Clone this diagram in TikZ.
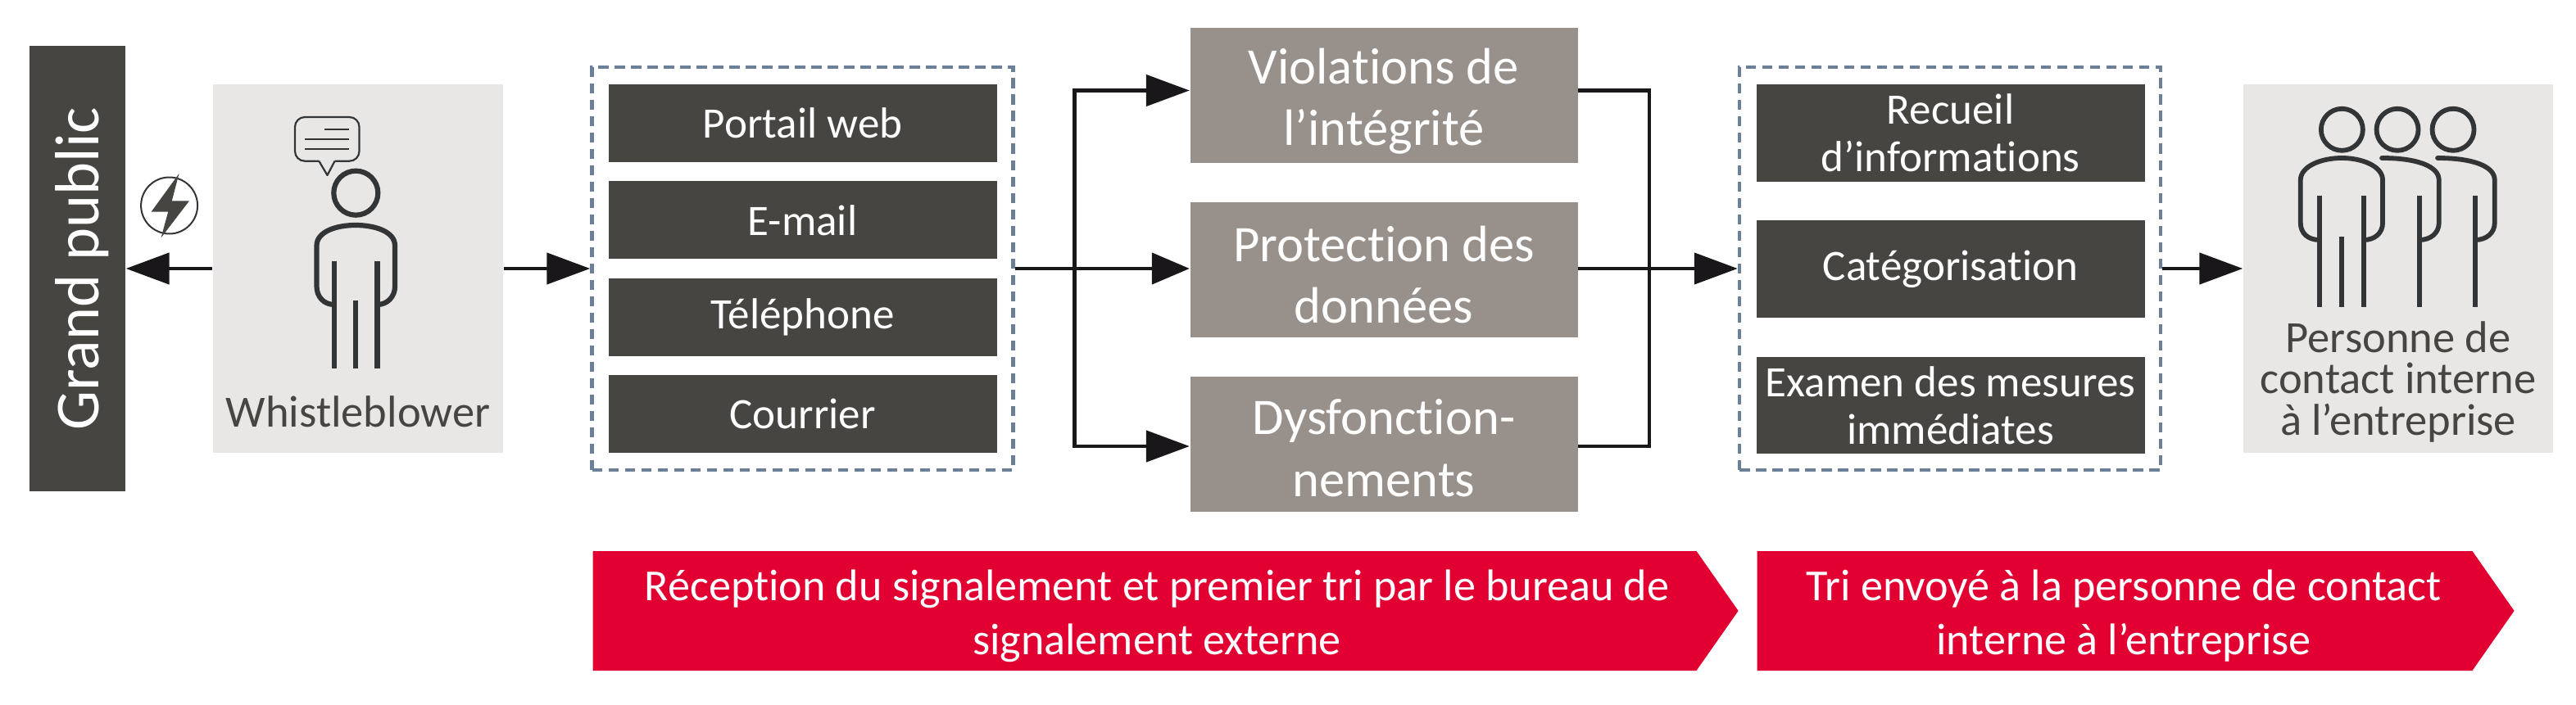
\documentclass[tikz,border=0pt]{standalone}
\usepackage{fontspec}
\setmainfont[Ligatures=NoCommon]{Carlito}
\usetikzlibrary{arrows.meta,positioning,shapes.symbols}
\definecolor{ink}{HTML}{464541}
\definecolor{stone}{HTML}{98908B}
\definecolor{pale}{HTML}{E8E7E5}
\definecolor{signalred}{HTML}{E10031}
\definecolor{slate}{HTML}{6B8097}
\definecolor{tipblack}{HTML}{1A171B}
\definecolor{icon}{HTML}{323436}

\begin{document}
\begin{tikzpicture}[
  darkbox/.style={fill=ink,text=white,minimum width=47.4mm,align=center,inner sep=0,font=\fontsize{15.1}{16.5}\selectfont},
  greybox/.style={fill=stone,minimum width=47.3mm,minimum height=16.5mm,inner sep=0},
  greytext/.style={text=white,align=center,inner sep=0,font=\fontsize{17.8}{21.5}\selectfont},
  palebox/.style={fill=pale,minimum height=45mm,inner sep=0},
  palelabel/.style={text=ink,align=center,inner sep=0,font=\fontsize{15.5}{14.3}\selectfont},
  group/.style={draw=slate,line width=0.45mm,dash pattern=on 1.25mm off 0.75mm,minimum width=51.4mm,minimum height=49.2mm},
  banner/.style={signal,signal to=east,signal pointer angle=110,fill=signalred,minimum height=14.6mm,inner sep=0},
  bannertext/.style={text=white,align=center,inner sep=0,font=\fontsize{15.4}{18.7}\selectfont},
  link/.style={draw=tipblack,line width=0.45mm},
  arr/.style={link,-{Triangle[length=5.3mm,width=3.8mm]}},
  arrshort/.style={link,-{Triangle[length=4.6mm,width=3.8mm]}},
  figure/.style={draw=icon,line width=0.58mm}]
  \useasboundingbox (0,0) rectangle (31.44,8.6);

  % left side
  \node[fill=ink,minimum width=11.7mm,minimum height=54.4mm,inner sep=0] (public) at (0.945,5.32) {};
  \node[text=white,rotate=90,inner sep=0,font=\fontsize{21.7}{25}\selectfont] (publictext) at ([xshift=0.6mm]public.center) {Grand public};
  \node[palebox,minimum width=35.4mm] (whistle) at (4.37,5.32) {};
  \node[palelabel,above=3.1mm of whistle.south] (whistlename) {Whistleblower};

  % channels
  \node[group] (channels) at (9.795,5.32) {};
  \node[darkbox,minimum height=9.5mm] (web) at (9.795,7.095) {Portail web};
  \node[darkbox,minimum height=9.5mm,below=2.2mm of web] (mail) {E-mail};
  \node[darkbox,minimum height=9.5mm,below=2.2mm of mail] (phone) {Téléphone};
  \node[darkbox,minimum height=9.5mm,below=2.2mm of phone] (post) {Courrier};

  % topics
  \node[greybox] (integrity) at (16.89,7.435) {};
  \node[greybox,below=4.65mm of integrity] (privacy) {};
  \node[greybox,below=4.65mm of privacy] (failure) {};
  \node[greytext] (integritytext) at ([yshift=-0.7mm]integrity.center) {Violations de\\l’intégrité};
  \node[greytext] (privacytext) at ([yshift=-0.6mm]privacy.center) {Protection des\\données};
  \node[greytext] (failuretext) at ([yshift=-0.5mm]failure.center) {Dysfonction-\\nements};
  \coordinate (forkin) at (13.116,5.32);
  \coordinate (forkout) at (20.13,5.32);

  % triage
  \node[group] (triage) at (23.80,5.32) {};
  \node[darkbox,minimum height=11.85mm] (collect) at (23.805,6.977) {Recueil\\d’informations};
  \node[darkbox,minimum height=11.85mm,below=4.65mm of collect] (sort) {Catégorisation};
  \node[darkbox,minimum height=11.85mm,below=4.65mm of sort] (review) {Examen des mesures\\immédiates};

  % contact
  \node[palebox,minimum width=37.8mm] (contact) at (29.27,5.32) {};
  \node[palelabel,above=1.3mm of contact.south] (contactname) {Personne de\\contact interne\\à l’entreprise};

  % banners
  \node[banner,minimum width=139.8mm] (firstband) at (13.97,1.14) {};
  \node[bannertext] (firsttext) at ([xshift=1.5mm,yshift=-0.6mm]firstband.center) {Réception du signalement et premier tri par le bureau de\\signalement externe};
  \node[banner,minimum width=92.4mm] (secondband) at (25.81,1.14) {};
  \node[bannertext] (secondtext) at ([xshift=1.1mm,yshift=-0.6mm]secondband.center) {Tri envoyé à la personne de contact\\interne à l’entreprise};

  % connectors
  \draw[arr] (whistle.west) -- (public.east |- whistle.west);
  \draw[arr] (whistle.east) -- (channels.west);
  \draw[arrshort] (channels.east) -- (channels.east -| privacy.west);
  \draw[arr] (forkin) |- ([yshift=0.6mm]integrity.west);
  \draw[arr] (forkin) |- ([yshift=-0.27mm]failure.west);
  \draw[link] ([yshift=0.6mm]integrity.east) -| (forkout);
  \draw[link] ([yshift=-0.27mm]failure.east) -| (forkout);
  \draw[arr] (triage.west -| privacy.east) -- (triage.west);
  \draw[arr] (triage.east) -- (contact.west);

  % icons, in pixels of the reference
  \begin{scope}[shift={(0,8.6)},x=0.1mm,y=-0.1mm]
    \draw[icon,line width=0.2mm] (206.6,251) circle (34.5);
    \fill[ink] (218.5,212) -- (184.6,258.7) -- (205.2,258.7) -- (196.5,290.5) -- (231,245.3) -- (209.8,245.3) -- cycle;
    % speaker
    \draw[icon,line width=0.22mm,rounded corners=1.2mm] (389.3,196.7) -- (360,196.7) -- (360,143) -- (438.5,143) -- (438.5,196.7) -- (408.6,196.7);
    \draw[icon,line width=0.22mm,line join=round] (389.3,196.7) -- (399.5,214) -- (408.6,196.7);
    \draw[icon,line width=0.2mm] (396,157.6) -- (426,157.6) (372,170) -- (426,170) (372,182) -- (426,182);
    \draw[figure,line width=0.62mm] (434.3,235.7) circle (27);
    \draw[figure,line width=0.62mm] (408,372) .. controls (395,372) and (386.5,362) .. (386.5,350) -- (386.5,300) .. controls (386.5,283) and (410,275) .. (434,275) .. controls (458,275) and (482,283) .. (482,300) -- (482,350) .. controls (482,362) and (473,372) .. (460.5,372);
    \draw[figure,line width=0.62mm] (408,319) -- (408,450) (460.5,319) -- (460.5,450) (434.3,367) -- (434.3,450);
    % team
    \foreach \hx in {2858.3,2926,2994}
      \draw[figure] (\hx,158.3) circle (25.5);
    \draw[figure] (2830.7,293) .. controls (2817,293) and (2807.7,285) .. (2807.7,272) -- (2807.7,220) .. controls (2807.7,203) and (2833,193) .. (2858,193) .. controls (2883,193) and (2908,203) .. (2908,220) -- (2908,272) .. controls (2908,285) and (2898,293) .. (2885,293);
    \foreach \bx in {0,68}
      \draw[figure,line cap=round] (2907+\bx,193) .. controls (2950+\bx,193) and (2976.7+\bx,203) .. (2976.7+\bx,220) -- (2976.7+\bx,272) .. controls (2976.7+\bx,285) and (2966+\bx,293) .. (2953+\bx,293);
    \draw[figure] (2830.7,239) -- (2830.7,375) (2885,239) -- (2885,375) (2858,289) -- (2858,375) (2953,239) -- (2953,375) (3021,239) -- (3021,375);
  \end{scope}
\end{tikzpicture}
\end{document}
